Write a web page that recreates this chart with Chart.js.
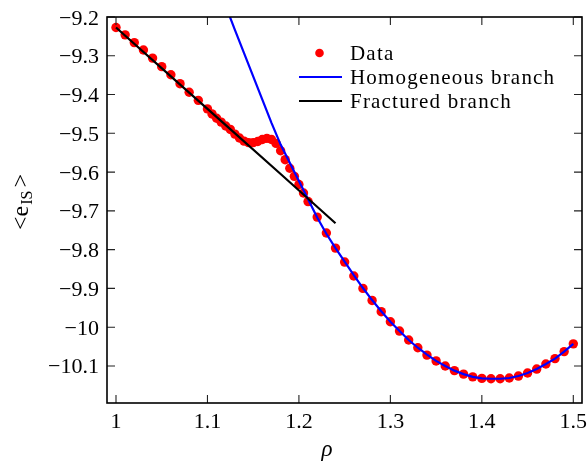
<!DOCTYPE html>
<html><head><meta charset="utf-8">
<script src="https://cdn.jsdelivr.net/npm/chart.js@4.4.1/dist/chart.umd.min.js"></script>
<style>html,body{margin:0;padding:0;background:#fff;}canvas{display:block;}</style>
</head><body>
<canvas id="c" width="587" height="463"></canvas>
<script>
// ---- data ----
const dataRho = [1.00,1.01,1.02,1.03,1.04,1.05,1.06,1.07,1.08,1.09,1.10,
  1.105,1.11,1.115,1.12,1.125,1.13,1.135,1.14,1.145,1.15,1.155,1.16,1.165,1.17,1.175,1.18,1.185,1.19,1.195,1.20,1.205,
  1.21,1.22,1.23,1.24,1.25,1.26,1.27,1.28,1.29,1.30,1.31,1.32,1.33,1.34,1.35,1.36,1.37,1.38,1.39,1.40,
  1.41,1.42,1.43,1.44,1.45,1.46,1.47,1.48,1.49,1.50];
const dataE = [-9.227,-9.246,-9.266,-9.285,-9.306,-9.328,-9.349,-9.372,-9.394,-9.415,-9.437,
  -9.450,-9.461,-9.471,-9.481,-9.490,-9.502,-9.512,-9.520,-9.524,-9.524,-9.521,-9.516,-9.513,-9.516,-9.526,-9.545,-9.568,-9.590,-9.611,-9.632,-9.654,
  -9.676,-9.716,-9.757,-9.796,-9.832,-9.868,-9.900,-9.931,-9.960,-9.986,-10.010,-10.033,-10.053,-10.072,-10.087,-10.100,-10.112,-10.121,-10.128,-10.132,
  -10.133,-10.133,-10.131,-10.126,-10.118,-10.108,-10.095,-10.081,-10.063,-10.043];
const homRho = [1.12,1.13,1.14,1.15,1.16,1.17,1.18,1.19,1.20,1.21,1.22,1.23,1.24,1.25,1.26,1.27,1.28,1.29,1.30,
  1.31,1.32,1.33,1.34,1.35,1.36,1.37,1.38,1.39,1.40,1.41,1.42,1.43,1.44,1.45,1.46,1.47,1.48,1.49,1.50];
const homE = [-9.172,-9.233,-9.293,-9.353,-9.413,-9.473,-9.529,-9.576,-9.623,-9.670,-9.717,-9.759,-9.796,-9.831,-9.866,-9.899,-9.930,-9.959,-9.986,
  -10.010,-10.033,-10.053,-10.071,-10.087,-10.100,-10.112,-10.121,-10.128,-10.132,-10.133,-10.133,-10.131,-10.126,-10.118,-10.108,-10.095,-10.081,-10.063,-10.043];
const fracRho = [1.00,1.06,1.12,1.18,1.24];
const fracE = [-9.227,-9.353,-9.479,-9.605,-9.732];
const xTickValues = [1,1.1,1.2,1.3,1.4,1.5];
const xTickLabels = ['1','1.1','1.2','1.3','1.4','1.5'];
const yTickValues = [-9.2,-9.3,-9.4,-9.5,-9.6,-9.7,-9.8,-9.9,-10,-10.1];
const yTickLabels = ['\u22129.2','\u22129.3','\u22129.4','\u22129.5','\u22129.6','\u22129.7','\u22129.8','\u22129.9','\u221210','\u221210.1'];
const seriesLabels = ['Data','Homogeneous branch','Fractured branch'];
const xTitle = '\u03C1';
const yTitleParts = ['<e','IS','>'];

const SERIF = 'Liberation Serif';
const toXY = (xs, ys) => xs.map((v, i) => ({x: v, y: ys[i]}));
const labelFor = (vals, labs, v) => {
  const i = vals.findIndex(t => Math.abs(t - v) < 1e-9);
  return i >= 0 ? labs[i] : '';
};

const decor = {
  id: 'decor',
  afterDraw(chart) {
    const {ctx, chartArea: a, scales: {x, y}} = chart;
    ctx.save();
    // inward ticks on all four sides (from the scales' own ticks)
    ctx.strokeStyle = '#222';
    ctx.lineWidth = 1.1;
    const TL = 8;
    ctx.beginPath();
    x.ticks.forEach(t => {
      const px = x.getPixelForValue(t.value);
      ctx.moveTo(px, a.bottom); ctx.lineTo(px, a.bottom - TL);
      ctx.moveTo(px, a.top); ctx.lineTo(px, a.top + TL);
    });
    y.ticks.forEach(t => {
      const py = y.getPixelForValue(t.value);
      ctx.moveTo(a.left, py); ctx.lineTo(a.left + TL, py);
      ctx.moveTo(a.right, py); ctx.lineTo(a.right - TL, py);
    });
    ctx.stroke();
    // frame
    ctx.strokeStyle = '#000';
    ctx.lineWidth = 1.6;
    ctx.strokeRect(a.left, a.top, a.right - a.left, a.bottom - a.top);

    // tick labels
    ctx.fillStyle = '#000';
    ctx.font = '22px ' + SERIF;
    ctx.textBaseline = 'alphabetic';
    ctx.textAlign = 'center';
    x.ticks.forEach(t => {
      ctx.fillText(labelFor(xTickValues, xTickLabels, t.value), x.getPixelForValue(t.value), 428);
    });
    ctx.textAlign = 'right';
    y.ticks.forEach(t => {
      ctx.fillText(labelFor(yTickValues, yTickLabels, t.value), 99, y.getPixelForValue(t.value) + 7.5);
    });

    // legend
    const ds = chart.data.datasets;
    const rows = [53, 77, 101];
    ctx.font = '21px ' + SERIF;
    ctx.textAlign = 'left';
    try { ctx.letterSpacing = '1.2px'; } catch (e) {}
    seriesLabels.forEach((lab, i) => {
      const cy = rows[i];
      if (i === 0) {
        ctx.beginPath();
        ctx.fillStyle = ds[0].backgroundColor;
        ctx.arc(319.5, cy, 4.3, 0, Math.PI * 2);
        ctx.fill();
      } else {
        ctx.beginPath();
        ctx.strokeStyle = ds[i].borderColor;
        ctx.lineWidth = 2.2;
        ctx.moveTo(299, cy); ctx.lineTo(342, cy);
        ctx.stroke();
      }
      ctx.fillStyle = '#000';
      ctx.fillText(lab, 350, cy + 7);
    });
    try { ctx.letterSpacing = '0px'; } catch (e) {}

    // x title
    ctx.font = 'italic 23px ' + SERIF;
    ctx.textAlign = 'center';
    ctx.fillText(xTitle, 327, 456);

    // y title (rotated)
    ctx.save();
    ctx.translate(28, 202);
    ctx.rotate(-Math.PI / 2);
    ctx.textAlign = 'left';
    const big = '24px ' + SERIF, small = '16px ' + SERIF;
    ctx.font = big;
    const w0 = ctx.measureText(yTitleParts[0]).width;
    const w2 = ctx.measureText(yTitleParts[2]).width;
    ctx.font = small;
    const w1 = ctx.measureText(yTitleParts[1]).width;
    const gap = 2;
    const total = w0 + gap + w1 + gap + w2;
    let u = -total / 2;
    ctx.font = big;
    ctx.fillText(yTitleParts[0], u, 0); u += w0 + 1;
    ctx.font = small;
    ctx.fillText(yTitleParts[1], u, 4); u += w1 + gap + 1;
    ctx.font = big;
    ctx.fillText(yTitleParts[2], u, 0);
    ctx.restore();

    ctx.restore();
  }
};

new Chart(document.getElementById('c'), {
  type: 'scatter',
  data: {
    datasets: [
      {label: seriesLabels[0], data: toXY(dataRho, dataE), showLine: false,
       backgroundColor: '#ff0000', borderColor: '#ff0000', borderWidth: 0,
       pointRadius: 4.7, pointHoverRadius: 4.7, order: 3},
      {label: seriesLabels[1], data: toXY(homRho, homE), showLine: true,
       borderColor: '#0000ff', backgroundColor: '#0000ff', borderWidth: 2.2,
       pointRadius: 0, fill: false, tension: 0, order: 2, clip: 0},
      {label: seriesLabels[2], data: toXY(fracRho, fracE), showLine: true,
       borderColor: '#000000', backgroundColor: '#000000', borderWidth: 2.2,
       pointRadius: 0, fill: false, tension: 0, order: 1, clip: 0}
    ]
  },
  options: {
    responsive: false,
    animation: false,
    devicePixelRatio: 1,
    layout: {padding: {top: 17, right: 5, left: 0, bottom: 0}},
    plugins: {legend: {display: false}, tooltip: {enabled: false}},
    events: [],
    scales: {
      x: {
        type: 'linear', min: 0.99016, max: 1.50951,
        afterFit(s) { s.height = 60; },
        afterBuildTicks(s) { s.ticks = xTickValues.map(v => ({value: v})); },
        grid: {display: false, drawTicks: false},
        border: {display: false},
        ticks: {display: false, autoSkip: false, maxRotation: 0}
      },
      y: {
        type: 'linear', min: -10.1955, max: -9.2,
        afterFit(s) { s.width = 107; },
        afterBuildTicks(s) { s.ticks = yTickValues.map(v => ({value: v})); },
        grid: {display: false, drawTicks: false},
        border: {display: false},
        ticks: {display: false, autoSkip: false}
      }
    }
  },
  plugins: [decor]
});
</script>
</body></html>
